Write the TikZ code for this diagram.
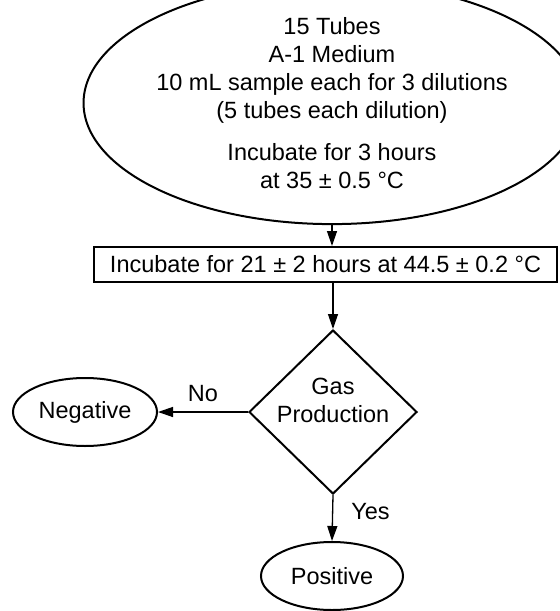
\documentclass[tikz,border=0pt]{standalone}
\usepackage{fontspec}
\setmainfont{Liberation Sans}
\usetikzlibrary{shapes.geometric}
\usetikzlibrary{arrows.meta}
\usetikzlibrary{positioning}

\begin{document}
\begin{tikzpicture}[x=0.5pt, y=-0.5pt,
    every node/.style={font=\fontsize{11.75}{14}\selectfont, align=center, inner sep=0pt},
    oval/.style={draw, ellipse, line width=1pt},
    boxed/.style={draw, rectangle, line width=1pt},
    decision/.style={draw, diamond, line width=1pt},
    flow/.style={line width=0.65pt, -{Triangle[length=7.5pt, width=5pt]}}]
    \useasboundingbox (0,0) rectangle (559,611);

    \node[oval, minimum width=203pt, minimum height=97pt] (tubes) at (332,103)
        {15 Tubes\\A-1 Medium\\10 mL sample each for 3 dilutions\\(5 tubes each dilution)\\[7pt]Incubate for 3 hours\\at 35 ± 0.5 °C};
    \node[boxed, minimum width=231.5pt, minimum height=17.5pt] (incubate) at (325.5,264.5)
        {Incubate for 21 ± 2 hours at 44.5 ± 0.2 °C};
    \node[decision, minimum width=84pt, minimum height=82pt,
        label={[align=center, yshift=6pt]center:Gas\\Production}] (gas) at (333,412) {};
    \node[oval, minimum width=72pt, minimum height=34pt] (neg) at (85,412) {Negative};
    \node[oval, minimum width=71pt, minimum height=34pt] (pos) at (332,576) {Positive};

    \draw[flow] (tubes.south) -- (tubes.south |- incubate.north);
    \draw[flow] (gas.north |- incubate.south) -- (gas.north);
    \draw[flow] (gas.west) -- node[above=5pt] (no) {No} (neg.east);
    \draw[flow] (gas.south) -- node[right=9pt, pos=0.35] (yes) {Yes} (pos.north);
\end{tikzpicture}
\end{document}
